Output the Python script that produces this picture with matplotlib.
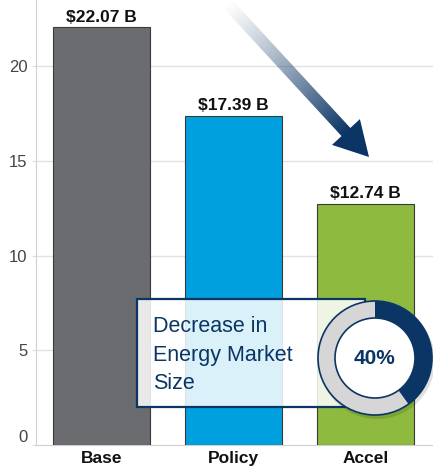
import numpy as np
import matplotlib
matplotlib.use("Agg")
import matplotlib.pyplot as plt
from matplotlib.patches import Polygon, Rectangle, Wedge, Circle

# data
scenarios = ["Base", "Policy", "Accel"]
market_size = [22.07, 17.39, 12.74]
bar_colors = ["#6b6c70", "#00a0df", "#8dba3f"]
value_labels = ["$22.07 B", "$17.39 B", "$12.74 B"]
yticks = [0, 5, 10, 15, 20]
decrease_pct = 40
callout_text = "Decrease in\nEnergy Market\nSize"

NAVY = "#0b3564"
NARROW = ["Liberation Sans Narrow", "Liberation Sans", "DejaVu Sans"]
REGULAR = ["Liberation Sans", "DejaVu Sans"]

W, H = 433, 468
fig = plt.figure(figsize=(W / 100, H / 100), dpi=100)
ax = fig.add_axes([36 / W, 1 - 445 / H, 1 - 36 / W, 445 / H])

x = np.arange(len(scenarios))
ax.bar(x, market_size, width=0.735, color=bar_colors, edgecolor="#3a3a3a",
       linewidth=0.8, zorder=3)
for xi, v, lab in zip(x, market_size, value_labels):
    ax.text(xi, v + 0.28, lab, ha="center", va="baseline", fontsize=12.5,
            fontweight="bold", family=NARROW, color="#111111", zorder=4)

ax.set_xlim(-0.495, 2.51)
ax.set_ylim(0, 23.5)
ax.set_yticks(yticks)
ax.set_yticklabels([str(t) for t in yticks], family=NARROW, fontsize=12,
                   color="#444444")
ax.get_yticklabels()[0].set_va("bottom")
ax.set_xticks(x)
ax.set_xticklabels(scenarios, family=NARROW, fontsize=12.5, fontweight="bold",
                   color="#111111")
ax.tick_params(axis="x", length=0, pad=4)
ax.tick_params(axis="y", length=3, color="#dddddd", pad=3)
for yt in yticks[1:]:
    ax.axhline(yt, color="#e2e2e2", lw=1, zorder=1)
for s in ["top", "right"]:
    ax.spines[s].set_visible(False)
ax.spines["left"].set_color("#d0d0d0")
ax.spines["bottom"].set_color("#d0d0d0")

# overlay in pixel coordinates (y up)
ov = fig.add_axes([0, 0, 1, 1], zorder=5)
ov.set_xlim(0, W)
ov.set_ylim(0, H)
ov.axis("off")

# gradient arrow
tail = np.array([226.0, H - 2.0])
tip = np.array([369.0, H - 157.0])
u = (tip - tail) / np.linalg.norm(tip - tail)
n = np.array([-u[1], u[0]])
base = tip - u * 34
pts = [tail + n * 6, base + n * 6, base + n * 19, tip,
       base - n * 19, base - n * 6, tail - n * 6]
arrow = Polygon(pts, closed=True, facecolor="none", edgecolor="none")
ov.add_patch(arrow)
xs = np.linspace(200, 400, 200)
ys = np.linspace(H - 180, H, 200)
gx, gy = np.meshgrid(xs, ys)
proj = ((gx - tail[0]) * u[0] + (gy - tail[1]) * u[1]) / np.linalg.norm(base - tail)
alpha = np.clip(proj, 0, 1) ** 1.2
rgb = matplotlib.colors.to_rgb(NAVY)
img = np.zeros(gx.shape + (4,))
img[..., 0], img[..., 1], img[..., 2] = rgb
img[..., 3] = alpha
im = ov.imshow(img, extent=(200, 400, H - 180, H), origin="lower",
               interpolation="bilinear", zorder=2)
im.set_clip_path(arrow)
ov.set_xlim(0, W)
ov.set_ylim(0, H)
ov.set_aspect("auto")

# callout box
ov.add_patch(Rectangle((137, H - 407), 228, 108, facecolor="white", alpha=0.86,
                       edgecolor="none", zorder=3))
ov.add_patch(Rectangle((137, H - 407), 228, 108, facecolor="none",
                       edgecolor=NAVY, lw=1.6, zorder=3))
ov.text(153, H - 355, callout_text, ha="left", va="center", fontsize=15.5,
        family=REGULAR, color=NAVY, linespacing=1.45, zorder=4)

# ring
cx, cy = 375, H - 358
ov.add_patch(Circle((cx + 2, cy - 3), 58, facecolor="#000000", alpha=0.12,
                    edgecolor="none", zorder=4))
ov.add_patch(Circle((cx, cy), 57, facecolor="#d6d6d6", edgecolor=NAVY,
                    lw=1.2, zorder=5))
ov.add_patch(Wedge((cx, cy), 57, 90 - 360 * decrease_pct / 100, 90,
                   facecolor=NAVY, edgecolor="none", zorder=6))
ov.add_patch(Circle((cx, cy), 40, facecolor="white", edgecolor=NAVY,
                    lw=1.2, zorder=7))
ov.text(cx, cy, f"{decrease_pct}%", ha="center", va="center", fontsize=15,
        fontweight="bold", family=REGULAR, color=NAVY, zorder=8)

fig.savefig("out.png", dpi=100)
